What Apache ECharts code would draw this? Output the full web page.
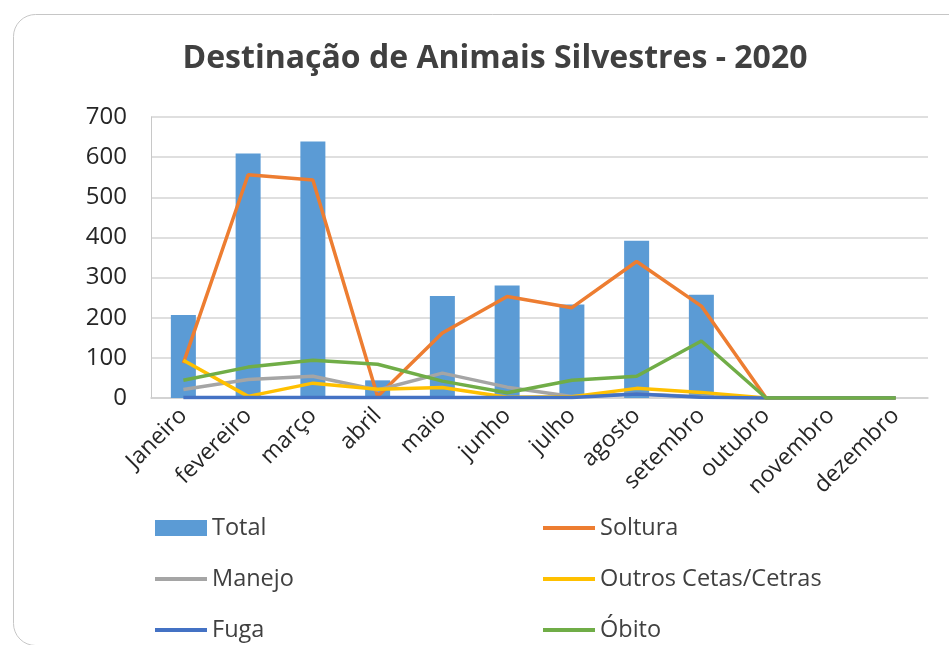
<!DOCTYPE html>
<html style="height: 100%">
  <head>
    <meta charset="UTF-8" />
    <title>Destinação de Animais Silvestres - 2020</title>
    <script src="https://cdn.jsdelivr.net/npm/echarts@6/dist/echarts.min.js"></script>
  </head>
  <body style="height: 100%; margin: 0; background: #fff">
    <div id="main" style="width: 949px; height: 645px"></div>
    <script>
      const months = ['Janeiro', 'fevereiro', 'março', 'abril', 'maio', 'junho', 'julho', 'agosto', 'setembro', 'outubro', 'novembro', 'dezembro']
      const yTicks = [0, 100, 200, 300, 400, 500, 600, 700]

      const total = [207, 609, 639, 44, 254, 280, 233, 392, 257, 0, 0, 0]
      const soltura = [87, 556, 543, 4, 162, 253, 225, 340, 229, 0, 0, 0]
      const manejo = [21, 46, 54, 20, 62, 27, 4, 10, 3, 0, 0, 0]
      const outros = [94, 4, 37, 22, 26, 2, 3, 24, 14, 0, 0, 0]
      const fuga = [1, 1, 1, 1, 1, 1, 1, 10, 2, 0, 0, 0]
      const obito = [44, 77, 94, 84, 42, 13, 44, 54, 142, 0, 0, 0]

      const font = '"Open Sans", "Noto Sans", sans-serif'
      const lineIcon = 'path://M0,0 L52,0 L52,4 L0,4 Z'

      const chart = echarts.init(document.getElementById('main'))

      const lineSeries = (name, data, color) => ({
        name,
        type: 'line',
        data,
        symbol: 'none',
        lineStyle: { width: 3.5, color },
        itemStyle: { color },
      })

      // two legend columns, like the original
      const legendBase = {
        orient: 'vertical',
        top: 516,
        padding: 0,
        itemWidth: 52,
        itemHeight: 16,
        itemGap: 27,
        textStyle: { fontFamily: font, fontSize: 23.5, lineHeight: 22, color: '#404040' },
      }

      const option = {
        animation: false,
        graphic: [
          {
            type: 'rect',
            left: 11,
            top: 12,
            shape: { width: 970, height: 631, r: 22 },
            style: { fill: 'none', stroke: '#c6c6c6', lineWidth: 1 },
            silent: true,
          },
        ],
        title: {
          text: 'Destinação de Animais Silvestres - 2020',
          left: 490,
          textAlign: 'center',
          top: 38,
          textStyle: { fontFamily: font, fontSize: 32, fontWeight: 'bold', color: '#404040' },
        },
        legend: [
          {
            ...legendBase,
            left: 155,
            data: [
              { name: 'Total', icon: 'rect' },
              { name: 'Manejo', icon: lineIcon },
              { name: 'Fuga', icon: lineIcon },
            ],
          },
          {
            ...legendBase,
            left: 543,
            data: [
              { name: 'Soltura', icon: lineIcon },
              { name: 'Outros Cetas/Cetras', icon: lineIcon },
              { name: 'Óbito', icon: lineIcon },
            ],
          },
        ],
        grid: { left: 151, right: 21, top: 117, bottom: 247 },
        xAxis: {
          type: 'category',
          data: months,
          axisLine: { lineStyle: { color: '#d0d0d0', width: 1.5 } },
          axisTick: { show: false },
          axisLabel: {
            rotate: 45,
            interval: 0,
            margin: 14,
            fontFamily: font,
            fontSize: 23,
            color: '#262626',
          },
        },
        yAxis: {
          type: 'value',
          min: yTicks[0],
          max: yTicks[yTicks.length - 1],
          interval: 100,
          axisLine: { show: true, lineStyle: { color: '#c8c8c8' } },
          axisTick: { show: false },
          splitLine: { lineStyle: { color: '#d4d4d4', width: 1.5 } },
          axisLabel: {
            margin: 24,
            fontFamily: font,
            fontSize: 24,
            color: '#262626',
          },
        },
        series: [
          {
            name: 'Total',
            type: 'bar',
            data: total,
            barWidth: 25,
            itemStyle: { color: '#5b9bd5' },
          },
          lineSeries('Soltura', soltura, '#ed7d31'),
          lineSeries('Manejo', manejo, '#a5a5a5'),
          lineSeries('Outros Cetas/Cetras', outros, '#ffc000'),
          lineSeries('Fuga', fuga, '#4472c4'),
          lineSeries('Óbito', obito, '#70ad47'),
        ],
      }

      chart.setOption(option)
    </script>
  </body>
</html>
